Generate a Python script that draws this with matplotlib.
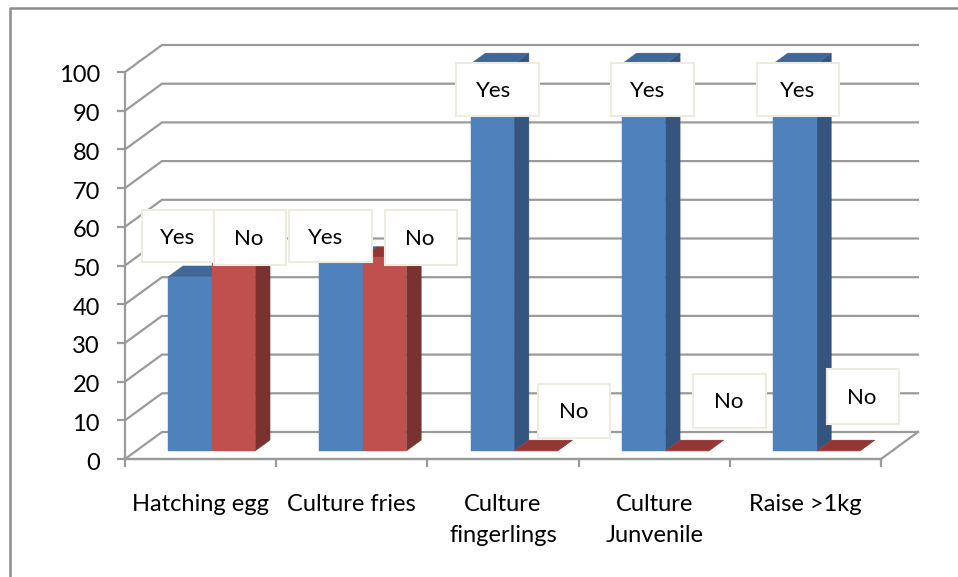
import matplotlib
matplotlib.use("Agg")
import matplotlib.pyplot as plt
from matplotlib.lines import Line2D
from matplotlib.patches import Polygon, Rectangle
from matplotlib.transforms import ScaledTranslation

categories = ["Hatching egg", "Culture fries", "Culture\nfingerlings", "Culture\nJunvenile", "Raise >1kg"]
yes_values = [45, 50, 100, 100, 100]
no_values = [55, 50, 0, 0, 0]
y_ticks = list(range(0, 101, 10))

# Boxes around the data labels, in pixels: left, right, top, bottom, text centre x
yes_boxes = [(142, 214, 210, 262, 178), (289, 372, 210, 262, 326), (456, 539, 63, 116, 493.5),
             (611, 694, 63, 116, 648), (757, 839, 63, 116, 798)]
no_boxes = [(214, 286, 210, 265, 248.5), (385, 457, 210, 265, 420), (538, 610, 384, 438, 573.5),
            (693, 766, 374, 428, 728.5), (827, 899, 369, 424, 862)]

W, H = 958, 577
LEFT, RIGHT, TOP, BOTTOM = 125, 881, 72, 459
DEPTH_X, DEPTH_Y = 37, 27  # pixel shift from front to back of the floor
GREY = "#9a9a9a"
FONT = "Lato"
FS = 17

plt.rcParams["font.family"] = [FONT, "DejaVu Sans"]
fig = plt.figure(figsize=(W / 100, H / 100), dpi=100)
ax = fig.add_axes([LEFT / W, 1 - BOTTOM / H, (RIGHT - LEFT) / W, (BOTTOM - TOP) / H])
ax.set_xlim(0, len(categories))
ax.set_ylim(0, 100)
ax.patch.set_visible(False)

dx = DEPTH_X * len(categories) / (RIGHT - LEFT)
dy = DEPTH_Y * 100 / (BOTTOM - TOP)


def project(x, y, t):
    """Oblique projection of a point at depth t (0 front, 1 back)."""
    return x + t * dx, y + t * dy


# Chart frame
fig.add_artist(Line2D([10 / W, 10 / W, 1], [0, 1 - 8 / H, 1 - 8 / H], color="#8c8c8c", lw=1.8))

# Back-wall gridlines and their side-wall continuation
for v in y_ticks:
    xs, ys = zip(project(0, v, 0), project(0, v, 1), project(len(categories), v, 1))
    ax.plot(xs, ys, color=GREY, lw=1.6, clip_on=False, zorder=1, solid_joinstyle="miter")
xs, ys = zip(project(0, 0, 0), project(len(categories), 0, 0), project(len(categories), 0, 1))
ax.plot(xs, ys, color=GREY, lw=1.6, clip_on=False, zorder=1)

BAR_W = 0.288
GAP = (1 - 2 * BAR_W) / 2
T0, T1 = 0.3, 0.7


def bar3d(x0, value, front, side, top, z):
    x1 = x0 + BAR_W
    faces = [
        ([(x1, 0, T0), (x1, 0, T1), (x1, value, T1), (x1, value, T0)], side),
        ([(x0, value, T0), (x1, value, T0), (x1, value, T1), (x0, value, T1)], top),
        ([(x0, 0, T0), (x1, 0, T0), (x1, value, T0), (x0, value, T0)], front),
    ]
    for pts, colour in faces:
        ax.add_patch(Polygon([project(*p) for p in pts], closed=True, facecolor=colour,
                             edgecolor=colour, lw=0.3, clip_on=False, zorder=z))


for i, (yes, no) in enumerate(zip(yes_values, no_values)):
    bar3d(i + GAP, yes, "#4f81bd", "#35557f", "#3f6797", 2 + i * 0.1)
    bar3d(i + GAP + BAR_W, no, "#c0504d", "#7a3230", "#943634", 2.05 + i * 0.1)

# Axes with real ticks
for s in ("top", "right"):
    ax.spines[s].set_visible(False)
for s in ("left", "bottom"):
    ax.spines[s].set_color(GREY)
    ax.spines[s].set_linewidth(1.6)
ax.set_yticks(y_ticks)
ax.tick_params(axis="y", length=6, width=1.6, color=GREY, labelsize=FS, pad=12, labelcolor="black")
nudge = ScaledTranslation(0, -2 / 100, fig.dpi_scale_trans)
for label in ax.get_yticklabels():
    label.set_transform(label.get_transform() + nudge)
ax.set_xticks(range(len(categories) + 1))
ax.set_xticklabels([])
ax.tick_params(axis="x", which="major", length=6, width=1.6, color=GREY)
ax.set_xticks([i + 0.5 for i in range(len(categories))], minor=True)
ax.set_xticklabels(categories, minor=True, fontsize=FS, linespacing=1.6, color="black")
ax.tick_params(axis="x", which="minor", length=0, pad=25)

# Data labels sit on top of everything, in pixel coordinates
for boxes, text in ((yes_boxes, "Yes"), (no_boxes, "No")):
    for l, r, t, b, cx in boxes:
        fig.add_artist(Rectangle((l / W, 1 - b / H), (r - l) / W, (b - t) / H, transform=fig.transFigure,
                                 facecolor="white", edgecolor="#eeece1", lw=1.5, zorder=5))
        fig.text(cx / W, 1 - ((t + b) / 2 + 1.5) / H, text, ha="center", va="center",
                 fontsize=FS - 1, color="black", zorder=6)

fig.savefig("out.png", dpi=100, facecolor="white")
